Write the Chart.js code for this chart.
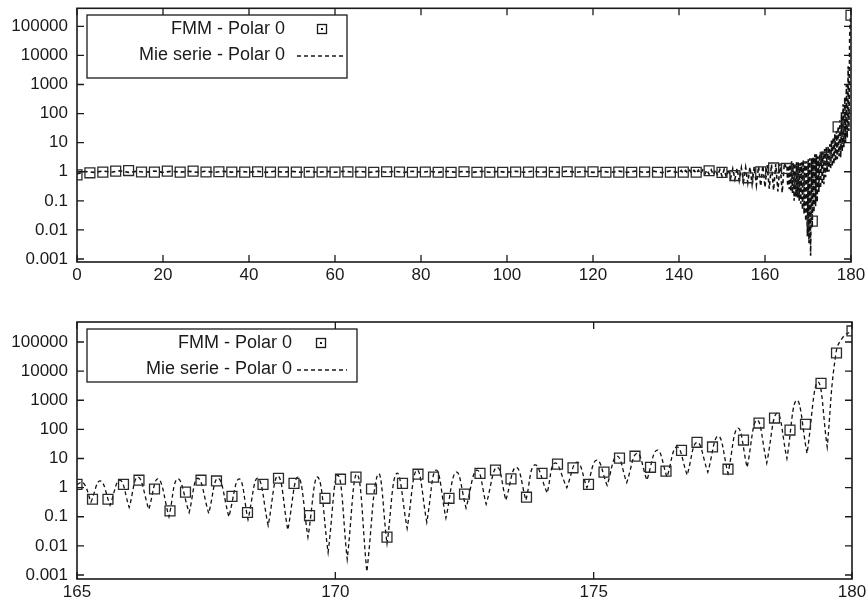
<!DOCTYPE html>
<html>
<head>
<meta charset="utf-8">
<script src="https://cdn.jsdelivr.net/npm/chart.js@4/dist/chart.umd.min.js"></script>
<style>
  body { margin: 0; background: #fff; }
  canvas { position: absolute; left: 0; }
  #top { top: 0; }
  #bottom { top: 300px; }
</style>
</head>
<body>
<canvas id="top" width="868" height="290"></canvas>
<canvas id="bottom" width="868" height="308"></canvas>
<script>
// axis ticks
const yTickValues = [0.001, 0.01, 0.1, 1, 10, 100, 1000, 10000, 100000];
const yTickLabels = ['0.001', '0.01', '0.1', '1', '10', '100', '1000', '10000', '100000'];
const topXTicks = [0, 20, 40, 60, 80, 100, 120, 140, 160, 180];
const zoomXTicks = [165, 170, 175, 180];

const fmmLabel = 'FMM - Polar 0';
const mieLabel = 'Mie serie - Polar 0';

// FMM samples, full range (3 deg step)
const fmmTopDeg = [0, 3, 6, 9, 12, 15, 18, 21, 24, 27, 30, 33, 36, 39, 42, 45, 48, 51, 54, 57,
  60, 63, 66, 69, 72, 75, 78, 81, 84, 87, 90, 93, 96, 99, 102, 105, 108, 111, 114, 117,
  120, 123, 126, 129, 132, 135, 138, 141, 144, 147, 150, 153, 156, 159, 162, 165, 168, 171, 174, 177, 180];
const fmmTopVal = [0.78, 0.92, 0.97, 1.05, 1.1, 0.98, 0.97, 1.05, 0.97, 1.05, 0.98, 1.0, 0.98, 0.97, 1.0, 0.97, 0.98, 0.97, 0.96, 0.98,
  0.97, 0.99, 0.97, 0.96, 1.0, 0.98, 0.96, 0.98, 0.96, 0.95, 1.0, 0.96, 0.96, 0.96, 0.98, 0.97, 0.98, 0.96, 1.0, 0.98,
  1.0, 0.96, 0.97, 0.96, 0.98, 0.96, 0.96, 0.97, 0.96, 1.08, 0.95, 0.74, 0.62, 1.0, 1.35, 1.3, 0.5, 0.02, 3.1, 35, 240000];

// FMM samples, 165-180 (0.3 deg step)
const fmmZoomDeg = [165.0, 165.3, 165.6, 165.9, 166.2, 166.5, 166.8, 167.1, 167.4, 167.7,
  168.0, 168.3, 168.6, 168.9, 169.2, 169.5, 169.8, 170.1, 170.4, 170.7,
  171.0, 171.3, 171.6, 171.9, 172.2, 172.5, 172.8, 173.1, 173.4, 173.7,
  174.0, 174.3, 174.6, 174.9, 175.2, 175.5, 175.8, 176.1, 176.4, 176.7,
  177.0, 177.3, 177.6, 177.9, 178.2, 178.5, 178.8, 179.1, 179.4, 179.7, 180.0];
const fmmZoomVal = [1.3, 0.4, 0.4, 1.3, 1.8, 0.9, 0.16, 0.7, 1.8, 1.7,
  0.5, 0.14, 1.3, 2.1, 1.4, 0.11, 0.43, 1.95, 2.3, 0.9,
  0.02, 1.4, 2.9, 2.3, 0.43, 0.6, 3.1, 4, 2, 0.47,
  3.1, 6.4, 4.8, 1.3, 3.4, 10.3, 12, 5, 3.7, 19,
  36, 25, 4.3, 43, 165, 245, 95, 150, 3800, 42000, 240000];

// Mie series, 0-165 (only seen in the top panel)
const mieWideDeg = [0, 2, 4, 6, 8, 10, 12, 14, 16, 18, 20, 22, 24, 26, 28, 30, 32, 34, 36, 38,
  40, 42, 44, 46, 48, 50, 52, 54, 56, 58, 60, 62, 64, 66, 68, 70, 72, 74, 76, 78,
  80, 82, 84, 86, 88, 90, 92, 94, 96, 98, 100, 102, 104, 106, 108, 110, 112, 114, 116, 118,
  120, 122, 124, 126, 128, 130, 132, 134, 136, 138, 140,
  140.5, 141, 141.5, 142, 142.5, 143, 143.5, 144, 144.5, 145, 145.5, 146, 146.5, 147, 147.5, 148,
  148.5, 149, 149.5, 150, 150.5, 151, 151.5, 152, 152.5, 153, 153.5, 154, 154.5, 155, 155.5, 156,
  156.5, 157, 157.5, 158, 158.5, 159, 159.5, 160, 160.5, 161, 161.5, 162, 162.5, 163, 163.5, 164, 164.5];
const mieWideVal = [0.84, 1.02, 0.95, 1.06, 0.96, 1.08, 0.95, 1.04, 0.96, 1.06, 0.95, 1.04, 0.97, 1.03, 0.96, 1.04, 0.95, 1.03, 0.97, 1.04,
  0.96, 1.03, 0.95, 1.04, 0.97, 1.03, 0.96, 1.04, 0.95, 1.03, 0.96, 1.04, 0.97, 1.03, 0.95, 1.04, 0.96, 1.03, 0.95, 1.04,
  0.96, 1.03, 0.95, 1.04, 0.96, 1.03, 0.95, 1.04, 0.96, 1.03, 0.95, 1.04, 0.96, 1.05, 0.95, 1.04, 0.96, 1.05, 0.95, 1.04,
  0.95, 1.05, 0.94, 1.05, 0.95, 1.06, 0.94, 1.05, 0.93, 1.07, 0.92,
  1.1, 0.9, 1.1, 0.9, 1.12, 0.88, 1.12, 0.88, 1.13, 0.86, 1.14, 0.84, 1.15, 0.82, 1.16, 0.78,
  1.17, 0.74, 1.18, 0.7, 1.2, 0.66, 1.24, 0.6, 1.27, 0.55, 1.3, 0.5, 1.35, 0.46, 1.4, 0.42,
  1.45, 0.38, 1.5, 0.35, 1.55, 0.32, 1.62, 0.29, 1.7, 0.26, 1.78, 0.23, 1.85, 0.21, 1.95, 0.19, 2.0];

// Mie series, 165-180 (peaks and dips)
const mieZoomDeg = [165.00, 165.12, 165.27, 165.45, 165.64, 165.83, 166.01, 166.18, 166.39, 166.57,
  166.78, 166.95, 167.17, 167.34, 167.55, 167.73, 167.94, 168.14, 168.31, 168.50,
  168.70, 168.89, 169.08, 169.28, 169.47, 169.66, 169.86, 170.05, 170.23, 170.42,
  170.61, 170.83, 171.00, 171.19, 171.39, 171.58, 171.77, 171.95, 172.14, 172.34,
  172.53, 172.74, 172.92, 173.13, 173.30, 173.50, 173.69, 173.86, 174.10, 174.25,
  174.48, 174.68, 174.87, 175.06, 175.26, 175.45, 175.64, 175.84, 176.03, 176.23,
  176.42, 176.61, 176.81, 177.00, 177.21, 177.41, 177.60, 177.79, 177.97, 178.16,
  178.35, 178.55, 178.74, 178.93, 179.13, 179.34, 179.52, 179.69, 179.83, 180.00];
const mieZoomVal = [1.3, 1.5, 0.32, 1.7, 0.25, 1.8, 0.21, 2.3, 0.18, 2.0,
  0.1, 2.0, 0.14, 2.1, 0.13, 2.1, 0.1, 2.0, 0.08, 2.1,
  0.05, 2.5, 0.035, 2.3, 0.02, 2.3, 0.006, 2.7, 0.0035, 2.9,
  0.0013, 2.9, 0.012, 3.1, 0.04, 4, 0.065, 4, 0.09, 3.4,
  0.2, 4, 0.27, 5, 0.37, 5, 0.37, 6, 0.65, 7,
  1.0, 7.5, 1.0, 8.8, 1.2, 12, 1.5, 15, 1.8, 19.5,
  2.3, 25, 2.7, 36, 3.4, 59, 3.1, 110, 5, 210,
  7, 360, 10, 1000, 15, 4200, 25, 42000, 150000, 240000];

const ink = '#1a1a1a';
const fontFamily = "'Liberation Sans', Arial, Helvetica, sans-serif";

const toPoints = (xs, ys) => xs.map((x, i) => ({ x, y: ys[i] }));

// repeat each local minimum so the spline keeps a sharp cusp there
// while the maxima stay rounded
function withCusps(points) {
  const out = [];
  points.forEach((p, i) => {
    out.push(p);
    const prev = points[i - 1], next = points[i + 1];
    if (prev && next && p.y < prev.y && p.y < next.y) {
      out.push({ x: p.x, y: p.y });
    }
  });
  return out;
}

// gnuplot-like frame with inward ticks on all four sides
const framePlugin = {
  id: 'frame',
  afterDatasetsDraw(chart) {
    const { ctx, chartArea: a, scales } = chart;
    ctx.save();
    ctx.strokeStyle = ink;
    ctx.lineWidth = 1.6;
    ctx.strokeRect(a.left, a.top, a.right - a.left, a.bottom - a.top);
    ctx.lineWidth = 1.3;
    ctx.beginPath();
    scales.x.ticks.forEach(t => {
      const px = scales.x.getPixelForValue(t.value);
      ctx.moveTo(px, a.bottom); ctx.lineTo(px, a.bottom - 7);
      ctx.moveTo(px, a.top); ctx.lineTo(px, a.top + 7);
    });
    scales.y.ticks.forEach(t => {
      const py = scales.y.getPixelForValue(t.value);
      ctx.moveTo(a.left, py); ctx.lineTo(a.left + 7, py);
      ctx.moveTo(a.right, py); ctx.lineTo(a.right - 7, py);
    });
    ctx.stroke();
    ctx.restore();
  }
};

// boxed key in the upper left corner
const keyPlugin = {
  id: 'gnuKey',
  afterDraw(chart, args, opts) {
    const { ctx } = chart;
    const [l, t, r, b] = opts.box;
    const ds = chart.data.datasets;
    ctx.save();
    ctx.fillStyle = '#fff';
    ctx.fillRect(l, t, r - l, b - t);
    ctx.strokeStyle = ink;
    ctx.lineWidth = 1.3;
    ctx.strokeRect(l, t, r - l, b - t);
    ctx.font = '18px ' + fontFamily;
    ctx.fillStyle = ink;
    ctx.textAlign = 'right';
    ctx.textBaseline = 'middle';
    ctx.fillText(ds[0].label, opts.textRight, opts.rowY[0]);
    ctx.fillText(ds[1].label, opts.textRight, opts.rowY[1]);
    // square marker sample
    ctx.lineWidth = 1.3;
    ctx.strokeRect(opts.markX - 4.5, opts.rowY[0] - 4.5, 9, 9);
    ctx.fillRect(opts.markX - 1, opts.rowY[0] - 1, 2, 2);
    // dashed line sample
    ctx.setLineDash([4, 3]);
    ctx.beginPath();
    ctx.moveTo(opts.lineX[0], opts.rowY[1] + 1);
    ctx.lineTo(opts.lineX[1], opts.rowY[1] + 1);
    ctx.stroke();
    ctx.restore();
  }
};

function makeChart(id, cfg) {
  return new Chart(document.getElementById(id), {
    type: 'line',
    data: {
      datasets: [
        {
          label: fmmLabel,
          data: cfg.fmm,
          showLine: false,
          pointStyle: 'rect',
          pointRadius: 7,
          pointBorderWidth: 1.3,
          pointBorderColor: '#2a2a2a',
          pointBackgroundColor: 'rgba(0,0,0,0)',
          order: 1
        },
        {
          label: mieLabel,
          data: cfg.mie,
          borderColor: '#111',
          borderWidth: cfg.lineWidth,
          borderDash: [4, 3],
          pointRadius: 0,
          tension: cfg.tension,
          order: 2
        }
      ]
    },
    options: {
      responsive: false,
      animation: false,
      devicePixelRatio: 1,
      layout: { padding: cfg.padding },
      plugins: {
        legend: { display: false },
        tooltip: { enabled: false },
        gnuKey: cfg.key
      },
      scales: {
        x: {
          type: 'linear',
          min: cfg.xMin,
          max: cfg.xMax,
          afterBuildTicks: s => { s.ticks = cfg.xTicks.map(v => ({ value: v })); },
          afterFit: s => { s.height = cfg.xHeight; s.paddingLeft = 0; s.paddingRight = 0; },
          grid: { display: false, drawTicks: false },
          border: { display: false },
          ticks: {
            autoSkip: false, maxRotation: 0, padding: 3, color: ink,
            font: { family: fontFamily, size: 17 },
            callback: v => String(v)
          }
        },
        y: {
          type: 'logarithmic',
          min: cfg.yMin,
          max: cfg.yMax,
          afterBuildTicks: s => { s.ticks = yTickValues.map(v => ({ value: v })); },
          afterFit: s => { s.width = 77; s.paddingTop = 0; s.paddingBottom = 0; },
          grid: { display: false, drawTicks: false },
          border: { display: false },
          ticks: {
            padding: 9, color: ink,
            font: { family: fontFamily, size: 17 },
            callback: (v, i) => yTickLabels[i]
          }
        }
      }
    },
    plugins: [framePlugin, keyPlugin]
  });
}

makeChart('top', {
  fmm: toPoints(fmmTopDeg, fmmTopVal),
  mie: toPoints(mieWideDeg.concat(mieZoomDeg), mieWideVal.concat(mieZoomVal)),
  tension: 0,
  lineWidth: 1.6,
  xMin: 0, xMax: 180, xTicks: topXTicks, xHeight: 28,
  yMin: 0.000789, yMax: 416000,
  padding: { top: 8, right: 17, left: 0, bottom: 0 },
  key: { box: [87, 15, 347, 78], textRight: 285, rowY: [29, 55], markX: 322, lineX: [297, 346] }
});

makeChart('bottom', {
  fmm: toPoints(fmmZoomDeg, fmmZoomVal),
  mie: withCusps(toPoints(mieZoomDeg, mieZoomVal)),
  tension: 0.45,
  lineWidth: 1.3,
  xMin: 165, xMax: 180, xTicks: zoomXTicks, xHeight: 29,
  yMin: 0.00073, yMax: 487000,
  padding: { top: 22, right: 16, left: 0, bottom: 0 },
  key: { box: [87, 29, 357, 82], textRight: 292, rowY: [43, 69], markX: 321, lineX: [297, 347] }
});
</script>
</body>
</html>
